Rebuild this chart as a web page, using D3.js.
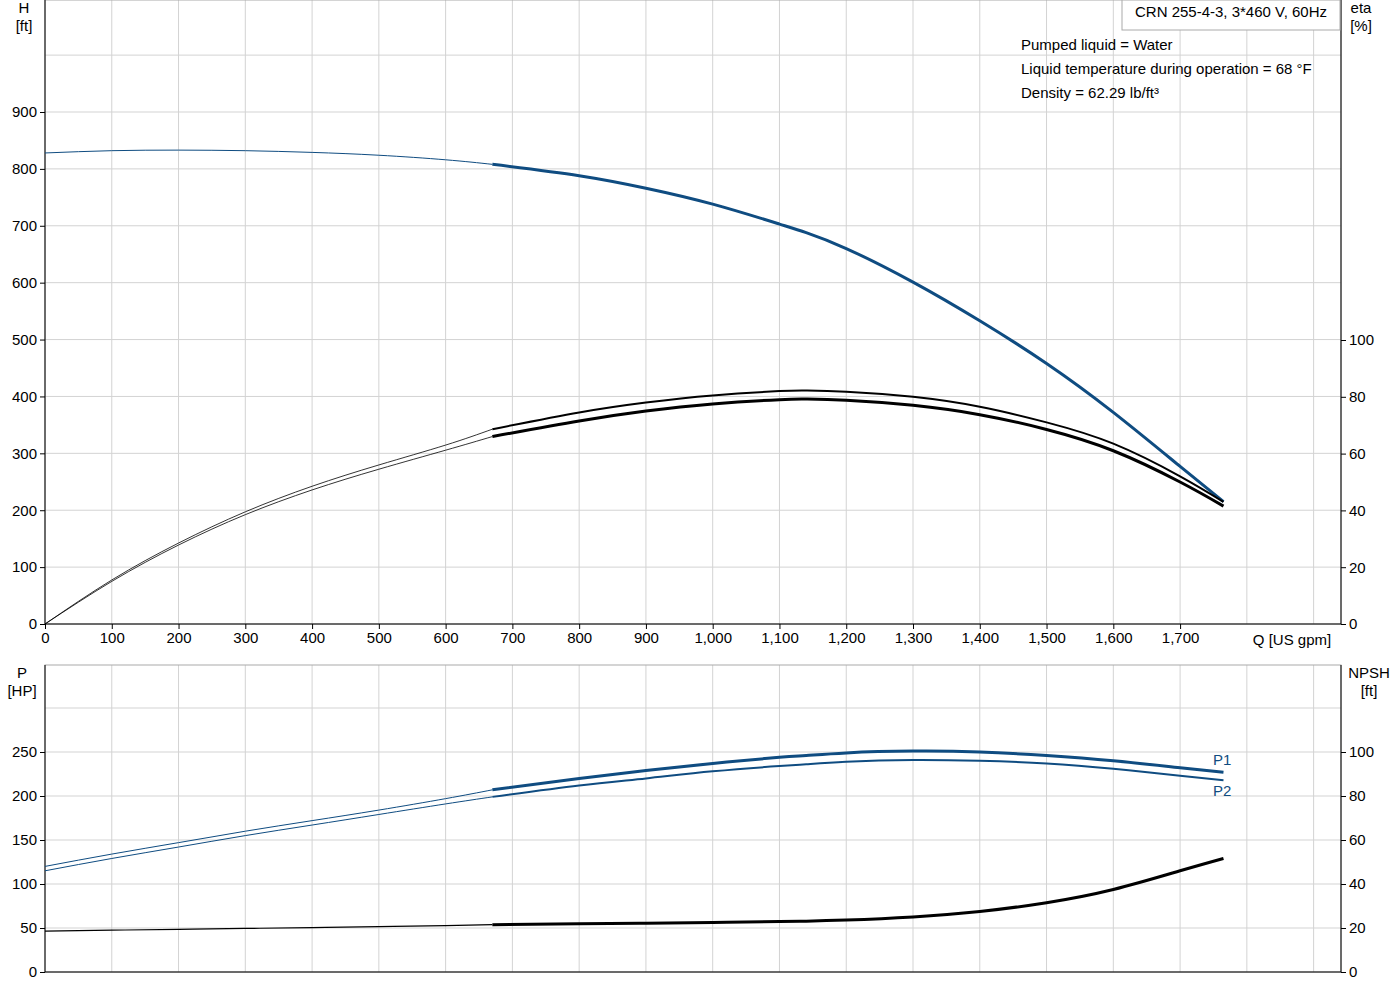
<!DOCTYPE html>
<html><head><meta charset="utf-8">
<script src="https://cdn.jsdelivr.net/npm/d3@7"></script>
<style>body{margin:0;background:#fff;font-family:Arial,"Liberation Sans",sans-serif;}</style>
</head><body><div id="chart"></div>
<script>
// flow values [US gpm]
const qPts = [0, 100, 200, 300, 400, 500, 600, 670, 800, 900, 1000, 1100, 1140, 1200, 1300, 1400, 1500, 1600, 1700, 1765];
const headFt = [828, 832, 833, 832, 829, 824, 816, 808, 788, 766, 738, 703, 688, 660, 601, 533, 458, 372, 277, 215];
const eta1 = [0, 15.5, 28.5, 39.5, 48.5, 56, 63, 68.6, 74.5, 78, 80.5, 82, 82.2, 81.8, 80, 76.5, 71, 63.5, 52, 43];
const eta2 = [0, 15, 27.8, 38.5, 47.2, 54.5, 61.2, 66, 71.5, 75, 77.5, 79, 79.2, 78.8, 77, 73.7, 68.5, 61, 50, 41.5];
const p1 = [120, 134, 147, 160, 172, 184, 197, 207, 220, 229, 237, 244, 246, 249, 251, 250, 246, 240, 232, 227];
const p2 = [115, 129, 142, 155, 167, 179, 191, 199, 212, 220, 228, 234, 236, 239, 241, 240, 237, 231, 223, 218];
const npsh = [18.6, 19, 19.4, 19.8, 20.2, 20.6, 21.1, 21.5, 21.9, 22.2, 22.5, 22.9, 23.1, 23.6, 25, 27.5, 31.5, 37.5, 46, 51.6];
const qSplit = 670;
const xTicks = [0,100,200,300,400,500,600,700,800,900,1000,1100,1200,1300,1400,1500,1600,1700];
const hTicks = [0,100,200,300,400,500,600,700,800,900];
const etaTicks = [0,20,40,60,80,100];
const pTicks = [0,50,100,150,200,250];
const npshTicks = [0,20,40,60,80,100];
const infoLines = ["Pumped liquid = Water", "Liquid temperature during operation = 68 °F", "Density = 62.29 lb/ft³"];

const W = 1400, H = 1000;
const svg = d3.select("#chart").append("svg").attr("width", W).attr("height", H)
  .style("font-family", "Arial, 'Liberation Sans', sans-serif").style("font-size", "15px");

const x = d3.scaleLinear().domain([0, 1941]).range([45, 1341]);
const yH = d3.scaleLinear().domain([0, 900]).range([624, 112]);
const yEta = d3.scaleLinear().domain([0, 100]).range([624, 340]);
const yP = d3.scaleLinear().domain([0, 250]).range([972, 752]);
const yN = d3.scaleLinear().domain([0, 100]).range([972, 752]);

const grid = "#d3d3d3";
function panel(top, bottom, yGridScale, gridVals) {
  const g = svg.append("g");
  for (let q = 100; q <= 1900; q += 100)
    g.append("line").attr("x1", x(q)).attr("x2", x(q)).attr("y1", top).attr("y2", bottom).attr("stroke", grid);
  gridVals.forEach(v => g.append("line").attr("x1", 45).attr("x2", 1341)
    .attr("y1", yGridScale(v)).attr("y2", yGridScale(v)).attr("stroke", grid));
  g.append("rect").attr("x", 45).attr("y", top).attr("width", 1296).attr("height", bottom - top)
    .attr("fill", "none").attr("stroke", "#aaa");
  g.append("line").attr("x1", 45).attr("x2", 45).attr("y1", top).attr("y2", bottom).attr("stroke", "#000");
  g.append("line").attr("x1", 1341).attr("x2", 1341).attr("y1", top).attr("y2", bottom).attr("stroke", "#000");
}
panel(0, 624, yH, [100,200,300,400,500,600,700,800,900,1000]);
panel(665, 972, yP, [50,100,150,200,250,300]);

function axis(gen, tx, ty) {
  const a = svg.append("g").attr("transform", `translate(${tx},${ty})`).call(gen);
  a.select(".domain").remove();
  a.selectAll("text").style("font-size", "15px").attr("fill", "#000");
  return a;
}
const fmt = d3.format(",");
axis(d3.axisBottom(x).tickValues(xTicks).tickFormat(fmt).tickSize(5), 0, 624);
svg.append("line").attr("x1", 45).attr("x2", 1341).attr("y1", 624).attr("y2", 624).attr("stroke", "#000");
svg.append("line").attr("x1", 45).attr("x2", 1341).attr("y1", 972).attr("y2", 972).attr("stroke", "#000");
axis(d3.axisLeft(yH).tickValues(hTicks).tickSize(5), 45, 0);
axis(d3.axisRight(yEta).tickValues(etaTicks).tickSize(5), 1341, 0);
axis(d3.axisLeft(yP).tickValues(pTicks).tickSize(5), 45, 0);
axis(d3.axisRight(yN).tickValues(npshTicks).tickSize(5), 1341, 0);

function label(t, xx, yy, anchor) {
  svg.append("text").attr("x", xx).attr("y", yy).attr("text-anchor", anchor || "middle").text(t);
}
label("H", 24, 13); label("[ft]", 24, 31);
label("eta", 1361, 13); label("[%]", 1361, 31);
label("P", 22, 678); label("[HP]", 22, 696);
label("NPSH", 1369, 678); label("[ft]", 1369, 696);
label("Q [US gpm]", 1292, 645);

// title box
svg.append("rect").attr("x", 1122).attr("y", 0).attr("width", 218).attr("height", 30)
  .attr("fill", "#fff").attr("stroke", "#aaa");
label("CRN 255-4-3, 3*460 V, 60Hz", 1231, 17);
infoLines.forEach((t, i) => label(t, 1021, 50 + 24 * i, "start"));

function curve(vals, ys, color, thin, thick) {
  const pts = qPts.map((q, i) => ({ q, v: vals[i] }));
  const line = d3.line().x(d => x(d.q)).y(d => ys(d.v)).curve(d3.curveNatural);
  svg.append("path").attr("d", line(pts.filter(d => d.q <= qSplit)))
    .attr("fill", "none").attr("stroke", color).attr("stroke-width", thin);
  svg.append("path").attr("d", line(pts.filter(d => d.q >= qSplit)))
    .attr("fill", "none").attr("stroke", color).attr("stroke-width", thick);
}
const blue = "#0f4c81";
curve(headFt, yH, blue, 1, 3);
curve(eta1, yEta, "#000", 0.8, 2);
curve(eta2, yEta, "#000", 0.8, 3);
curve(p1, yP, blue, 1, 3);
curve(p2, yP, blue, 1, 2);
curve(npsh, yN, "#000", 1.2, 3);

svg.append("text").attr("x", 1213).attr("y", 765).attr("fill", blue).text("P1");
svg.append("text").attr("x", 1213).attr("y", 796).attr("fill", blue).text("P2");
</script></body></html>
